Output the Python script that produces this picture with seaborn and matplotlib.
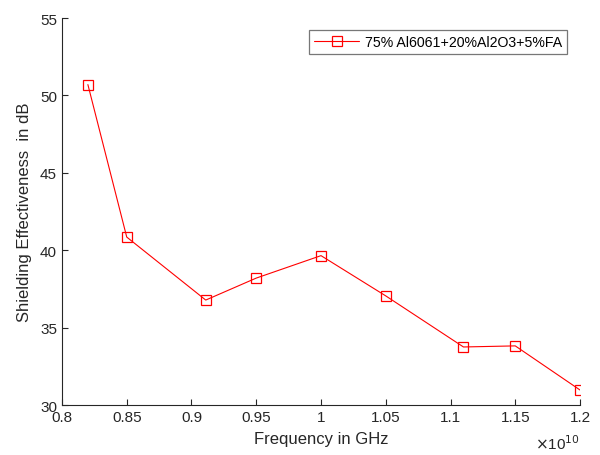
import matplotlib
matplotlib.use("Agg")
import matplotlib.pyplot as plt
import pandas as pd
import seaborn as sns
from matplotlib.ticker import FuncFormatter, MultipleLocator

# frequency in Hz (axis shows x 10^10)
freq_hz = [0.82e10, 0.85e10, 0.911e10, 0.95e10, 1.0e10, 1.05e10, 1.11e10, 1.15e10, 1.2e10]
se_db = [50.7, 40.85, 36.78, 38.2, 39.65, 37.05, 33.75, 33.82, 30.97]
series_label = "75% Al6061+20%Al2O3+5%FA"

df = pd.DataFrame({"freq": freq_hz, "se": se_db})

sns.set_style("ticks")
plt.rcParams["font.family"] = ["Liberation Sans", "DejaVu Sans"]
plt.rcParams["xtick.direction"] = "in"
plt.rcParams["ytick.direction"] = "in"

TXT = "#262626"

fig = plt.figure(figsize=(6, 4.56), dpi=100)
ax = fig.add_axes([0.1033, 0.1096, 0.8634, 0.8487])

sns.lineplot(data=df, x="freq", y="se", ax=ax, color="red", linewidth=0.8,
             marker="s", markersize=7, markerfacecolor="none",
             markeredgecolor="red", markeredgewidth=0.9, label=series_label)

ax.set_xlim(0.8e10, 1.2e10)
ax.set_ylim(30, 55)
ax.xaxis.set_major_locator(MultipleLocator(0.05e10))
ax.yaxis.set_major_locator(MultipleLocator(5))
ax.xaxis.set_major_formatter(FuncFormatter(lambda v, p: f"{v / 1e10:g}"))

for side in ["top", "right"]:
    ax.spines[side].set_visible(False)
for side in ["left", "bottom"]:
    ax.spines[side].set_color(TXT)
    ax.spines[side].set_linewidth(0.8)
ax.tick_params(axis="both", colors=TXT, labelcolor=TXT, labelsize=11, length=4, width=0.8)

ax.set_xlabel("Frequency in GHz", fontsize=12, color=TXT, labelpad=5)
ax.set_ylabel("Shielding Effectiveness  in dB", fontsize=12, color=TXT, labelpad=6)
ax.text(1.0, -0.097, r"$\times$10$^{10}$", transform=ax.transAxes, ha="right",
        va="center", fontsize=11, color=TXT)

leg = ax.legend(loc="upper right", bbox_to_anchor=(0.975, 0.97), frameon=True,
                fancybox=False, fontsize=10.2, handlelength=3.2, borderpad=0.35,
                handletextpad=0.4, borderaxespad=0)
leg.get_frame().set_edgecolor("#555555")
leg.get_frame().set_linewidth(0.9)
for t in leg.get_texts():
    t.set_color("black")

fig.savefig("out.png", dpi=100)
